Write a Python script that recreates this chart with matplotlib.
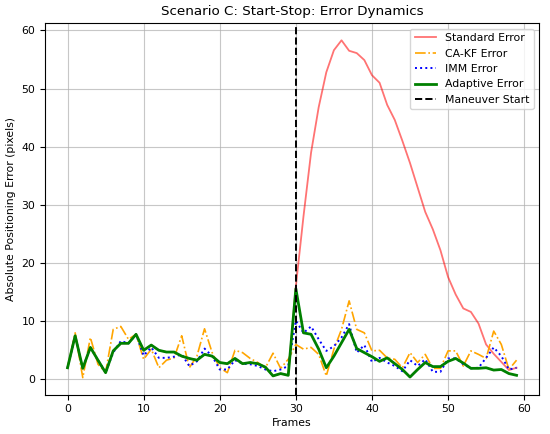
import numpy as np
import matplotlib
matplotlib.use("Agg")
import matplotlib.pyplot as plt

frames = np.arange(60)

adaptive_err = [2.0, 7.5, 1.9, 5.5, 3.3, 1.15, 4.9, 6.2, 6.2, 7.75,
                5.0, 5.9, 5.0, 4.7, 4.7, 4.0, 3.6, 3.3, 4.3, 4.0,
                2.9, 2.7, 3.6, 2.7, 2.9, 2.7, 2.1, 0.6, 1.0, 0.7,
                15.6, 8.0, 7.75, 5.2, 2.0, 4.0, 6.3, 8.6, 5.3, 4.6,
                3.9, 3.1, 3.7, 2.7, 1.7, 0.4, 1.7, 2.9, 2.2, 2.2,
                3.1, 3.6, 2.8, 1.9, 1.9, 2.0, 1.6, 1.7, 1.0, 0.7]

cakf_err = [2.0, 8.0, 0.3, 7.2, 2.6, 1.2, 8.6, 9.1, 6.9, 7.75,
            3.45, 5.2, 2.0, 3.3, 3.7, 7.5, 2.0, 4.0, 8.7, 4.6,
            2.0, 1.15, 5.0, 4.6, 3.6, 2.9, 2.0, 4.5, 1.9, 3.45,
            6.0, 5.2, 5.5, 4.3, 0.6, 5.2, 8.6, 13.5, 8.6, 8.0,
            4.9, 5.0, 3.7, 3.45, 2.0, 4.6, 2.9, 4.3, 1.9, 1.9,
            4.9, 4.9, 2.3, 4.9, 4.3, 3.6, 8.3, 6.0, 1.7, 3.3]

imm_err = [2.0, 7.5, 2.0, 5.5, 3.3, 1.2, 4.6, 6.6, 6.2, 7.7,
           4.1, 5.5, 3.7, 3.7, 3.9, 4.3, 2.3, 3.1, 5.3, 4.0,
           1.7, 1.7, 3.3, 2.7, 2.6, 2.3, 1.7, 1.4, 1.7, 2.3,
           10.1, 8.0, 9.1, 6.9, 4.9, 5.7, 7.2, 9.5, 4.6, 5.9,
           3.0, 3.7, 2.9, 2.3, 1.4, 3.3, 2.3, 3.45, 1.3, 1.3,
           3.6, 3.6, 2.6, 1.9, 2.0, 3.7, 5.5, 4.0, 1.7, 2.0]

# before the maneuver the standard filter follows the others (hidden under them)
standard_err = adaptive_err[:30] + [
    16.0, 28.0, 39.0, 46.8, 52.8, 56.6, 58.3, 56.5, 56.1, 54.9,
    52.3, 51.0, 47.2, 44.6, 41.0, 37.2, 33.0, 28.8, 25.8, 22.2,
    17.6, 14.6, 12.2, 11.6, 9.6, 6.0, 4.4, 3.0, 1.6, 2.0]

maneuver_frame = 30

fig, ax = plt.subplots(figsize=(5.5, 4.34), dpi=100)
ax.plot(frames, standard_err, color='red', alpha=0.55, linewidth=1.3,
        label='Standard Error')
ax.plot(frames, cakf_err, color='orange', linestyle='-.', linewidth=1.2,
        label='CA-KF Error')
ax.plot(frames, imm_err, color='blue', linestyle=':', linewidth=1.4,
        label='IMM Error')
ax.plot(frames, adaptive_err, color='green', linewidth=2.0,
        label='Adaptive Error')
ax.axvline(maneuver_frame, color='black', linestyle='--', linewidth=1.4,
           label='Maneuver Start')
ax.set_title('Scenario C: Start-Stop: Error Dynamics', fontsize=9.7)
ax.set_xlabel('Frames', fontsize=7.8, labelpad=3)
ax.set_ylabel('Absolute Positioning Error (pixels)', fontsize=7.8)
ax.tick_params(labelsize=7.8)
ax.grid(True, linewidth=0.8, alpha=0.7)
ax.legend(loc='upper right', fontsize=7.8)
fig.subplots_adjust(left=0.082, right=0.98, top=0.946, bottom=0.091)
fig.savefig('out.png', dpi=100)
